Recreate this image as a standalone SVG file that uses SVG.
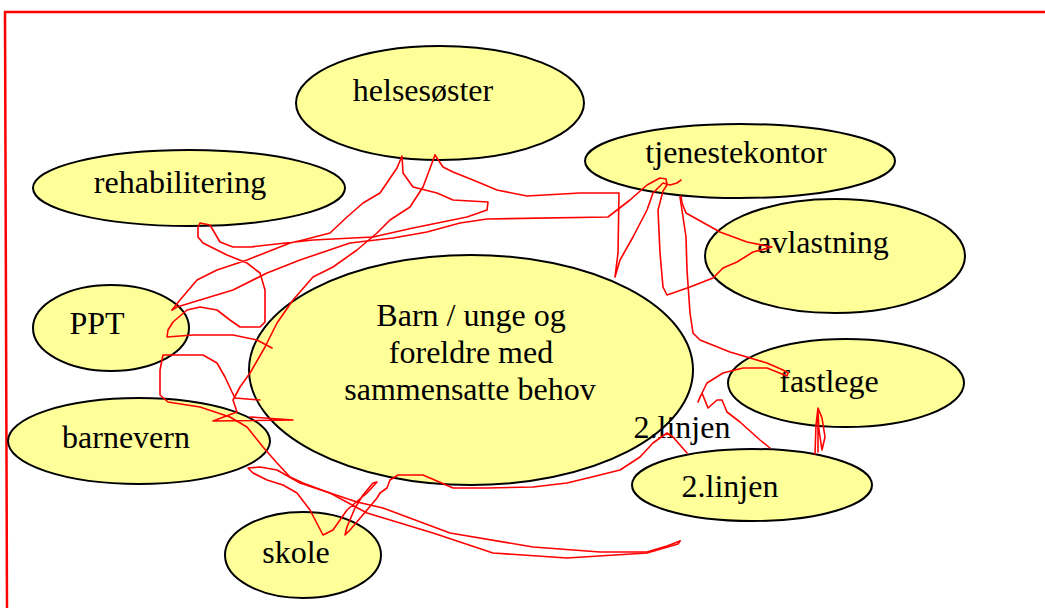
<svg xmlns="http://www.w3.org/2000/svg" width="1045" height="608" viewBox="0 0 1045 608">
<style>
.n ellipse{fill:#FFFF99;stroke:#000;stroke-width:2}
text{font-family:"Liberation Serif","Times New Roman",serif;font-size:32px;fill:#000;text-anchor:middle}
.c path{fill:none;stroke:#FF0000;stroke-width:1.6;stroke-linejoin:round;stroke-linecap:round}
</style>
<rect width="1045" height="608" fill="#fff"/>
<path d="M7,608 L5,12 L1045,12" fill="none" stroke="#FF0000" stroke-width="2.5"/>
<g id="helsesoster" class="n"><ellipse cx="440" cy="103" rx="144" ry="57"/><text x="423" y="101">helsesøster</text></g>
<g id="rehabilitering" class="n"><ellipse cx="189" cy="188" rx="156" ry="38"/><text x="180" y="193">rehabilitering</text></g>
<g id="tjenestekontor" class="n"><ellipse cx="740" cy="161" rx="155" ry="37"/><text x="736" y="163">tjenestekontor</text></g>
<g id="avlastning" class="n"><ellipse cx="835" cy="256" rx="130" ry="57"/><text x="823" y="253">avlastning</text></g>
<g id="ppt" class="n"><ellipse cx="111" cy="328" rx="78" ry="43"/><text x="97" y="334">PPT</text></g>
<g id="barn" class="n"><ellipse cx="471" cy="370" rx="222" ry="115"/><text x="471" y="326">Barn / unge og</text><text x="471" y="363">foreldre med</text><text x="470" y="400">sammensatte behov</text></g>
<g id="fastlege" class="n"><ellipse cx="846" cy="383" rx="118" ry="44"/><text x="829" y="392">fastlege</text></g>
<g id="barnevern" class="n"><ellipse cx="139" cy="441" rx="131" ry="43"/><text x="126" y="448">barnevern</text></g>
<g id="linjen2" class="n"><ellipse cx="752" cy="485" rx="120" ry="36"/><text x="730" y="497">2.linjen</text></g>
<g id="skole" class="n"><ellipse cx="303" cy="555" rx="78" ry="43"/><text x="296" y="563">skole</text></g>
<g id="label-2linjen"><text x="682" y="438">2.linjen</text></g>
<g id="connectors" class="c">
<path d="M172,310 L180,300 L197,280 L217,270 L247,260 L290,243 L303,240 L330,233 L347,217 L363,203 L380,193 L397,168 L402,156 L403,173 L413,187 L437,193 L453,200 L488,202 L487,210 L467,217 L413,228 L373,237 L313,240 L250,247 L233,247 L220,242 L210,225 L200,223 L198,227 L198,237 L203,243 L227,255 L247,263 L260,273 L265,290 L265,322 L260,327 L240,327 L230,320 L217,310 L200,307 L187,310 L173,322 L168,330 L167,337 L193,335 L233,335 L257,340 L272,348"/>
<path d="M172,310 L177,307 L200,300 L233,290 L267,273 L300,260 L350,243 L393,238 L427,232 L460,223 L487,219 L608,217 L630,200 L647,185 L660,178 L666,179 L667,185 L663,191 L658,210 L660,253 L663,287 L667,295 L690,287 L713,278 L723,268 L737,262 L753,252 L772,247 L747,242 L720,232 L686,213 L682,203 L681,196"/>
<path d="M435,155 L443,167 L453,172 L473,180 L497,190 L527,196 L580,193 L619,193 L618,253 L615,277 L620,260 L633,237 L647,210 L653,193 L658,188 L663,183 L670,185 L677,183 L681,180"/>
<path d="M435,155 L423,187 L410,207 L390,220 L377,233 L357,250 L333,267 L313,277 L293,300 L277,323 L265,347 L250,373 L240,387 L233,400 L237,412 L213,421 L293,420 L250,417"/>
<path d="M260,400 L235,398 L232,392 L225,377 L217,363 L203,355 L163,355 L160,370 L160,395 L168,402 L200,407 L230,417 L247,427 L263,447 L277,463 L290,477 L303,483 L327,492 L357,502 L383,508 L450,533 L533,547 L600,552 L647,552 L667,546 L680,541"/>
<path d="M680,541 L678,544 L647,553 L567,558 L493,553 L433,533 L367,513 L330,493 L300,483 L277,470 L260,467 L248,468 L253,473 L267,480 L283,485 L297,493 L310,510 L323,535 L333,530 L347,510 L355,503 L367,493 L377,482 L373,483 L363,495 L355,508 L347,527 L345,535 L350,530 L367,510 L377,498 L380,493 L387,488 L390,480 L398,475 L423,475 L453,488 L487,488 L533,487 L567,483 L600,475 L620,470 L640,457 L653,443 L667,433 L673,437 L687,453"/>
<path d="M680,197 L686,237 L687,270 L690,313 L693,333 L700,340 L730,352 L767,363 L783,370 L788,373 L787,376 L767,368 L743,368 L723,373 L707,383 L700,397 L698,402 L702,393 L708,408 L717,400 L722,400 L727,412 L740,422 L760,440 L770,448"/>
<path d="M815,454 L816,425 L818,408 L822,418 L825,437 L822,450 L819,430 L818,412 L818,452"/>
</g>
</svg>
